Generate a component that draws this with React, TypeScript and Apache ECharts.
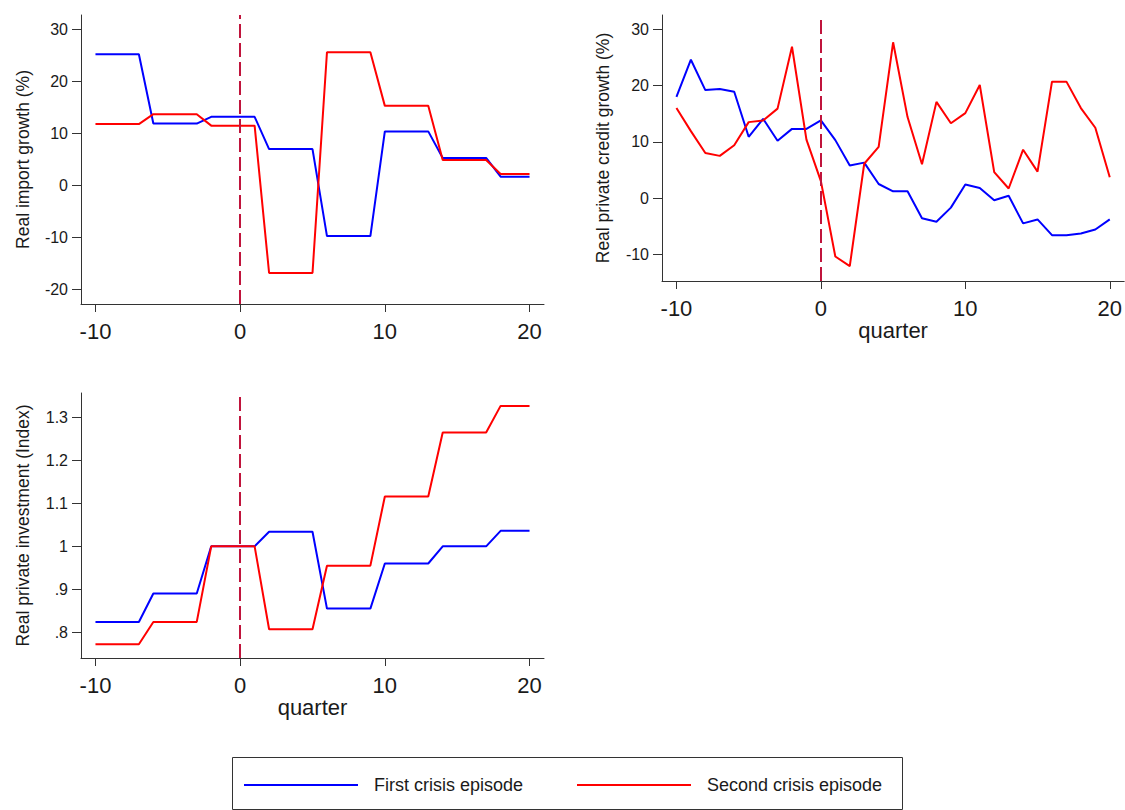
import React, { useEffect, useRef } from "react";
import * as echarts from "echarts";

// ---------- data ----------
const quarters = [-10, -9, -8, -7, -6, -5, -4, -3, -2, -1, 0, 1, 2, 3, 4, 5, 6, 7, 8, 9, 10, 11, 12, 13, 14, 15, 16, 17, 18, 19, 20];

const importFirst = [25.2, 25.2, 25.2, 25.2, 11.9, 11.9, 11.9, 11.9, 13.2, 13.2, 13.2, 13.2, 7.0, 7.0, 7.0, 7.0, -9.7, -9.7, -9.7, -9.7, 10.4, 10.4, 10.4, 10.4, 5.3, 5.3, 5.3, 5.3, 1.7, 1.7, 1.7];
const importSecond = [11.8, 11.8, 11.8, 11.8, 13.7, 13.7, 13.7, 13.7, 11.5, 11.5, 11.5, 11.5, -16.8, -16.8, -16.8, -16.8, 25.6, 25.6, 25.6, 25.6, 15.3, 15.3, 15.3, 15.3, 4.9, 4.9, 4.9, 4.9, 2.2, 2.2, 2.2];

const creditFirst = [18.0, 24.6, 19.2, 19.4, 18.9, 10.9, 14.1, 10.2, 12.3, 12.3, 13.8, 10.3, 5.8, 6.3, 2.5, 1.2, 1.2, -3.6, -4.2, -1.7, 2.4, 1.8, -0.4, 0.4, -4.5, -3.8, -6.6, -6.6, -6.3, -5.6, -3.8];
const creditSecond = [16.0, 11.9, 8.0, 7.5, 9.4, 13.5, 13.8, 15.9, 26.9, 10.4, 3.0, -10.4, -12.1, 6.1, 9.1, 27.7, 14.4, 6.0, 17.1, 13.3, 15.1, 20.1, 4.6, 1.7, 8.6, 4.7, 20.7, 20.7, 16.0, 12.5, 3.7];

const investFirst = [0.824, 0.824, 0.824, 0.824, 0.89, 0.89, 0.89, 0.89, 1.0, 1.0, 1.0, 1.0, 1.034, 1.034, 1.034, 1.034, 0.855, 0.855, 0.855, 0.855, 0.96, 0.96, 0.96, 0.96, 1.0, 1.0, 1.0, 1.0, 1.036, 1.036, 1.036];
const investSecond = [0.772, 0.772, 0.772, 0.772, 0.824, 0.824, 0.824, 0.824, 1.0, 1.0, 1.0, 1.0, 0.807, 0.807, 0.807, 0.807, 0.955, 0.955, 0.955, 0.955, 1.116, 1.116, 1.116, 1.116, 1.265, 1.265, 1.265, 1.265, 1.327, 1.327, 1.327];

const xTicks = [-10, 0, 10, 20];
const importTicks = [-20, -10, 0, 10, 20, 30];
const creditTicks = [-10, 0, 10, 20, 30];
const investTicks = [0.8, 0.9, 1.0, 1.1, 1.2, 1.3];

const seriesNames = ["First crisis episode", "Second crisis episode"];
const crisisQuarter = 0;

// ---------- styling ----------
const FONT = "'Liberation Sans', Arial, Helvetica, sans-serif";
const AXIS_COLOR = "#333333";
const TEXT_COLOR = "#1a1a1a";
const BLUE = "#0000ff";
const RED = "#ff0000";

const pairs = (ys: number[]) => quarters.map((q, i) => [q, ys[i]]);

const xAxisCfg = (gridIndex: number, showName: boolean) => ({
  type: "value",
  gridIndex,
  min: -11,
  max: 21,
  axisLine: { show: true, onZero: false, lineStyle: { color: AXIS_COLOR, width: 1 } },
  axisTick: { show: true, length: 8, customValues: xTicks, lineStyle: { color: AXIS_COLOR } },
  axisLabel: { customValues: xTicks, fontSize: 22, color: TEXT_COLOR, margin: 16, fontFamily: FONT },
  splitLine: { show: false },
  name: showName ? "quarter" : "",
  nameLocation: "middle",
  nameGap: 37,
  nameTextStyle: { fontSize: 22, color: TEXT_COLOR, fontFamily: FONT },
});

const yAxisCfg = (gridIndex: number, min: number, max: number, ticks: number[], name: string, gap: number, fmt?: (v: number) => string) => ({
  type: "value",
  gridIndex,
  min,
  max,
  axisLine: { show: true, onZero: false, lineStyle: { color: AXIS_COLOR, width: 1 } },
  axisTick: { show: true, length: 9, customValues: ticks, lineStyle: { color: AXIS_COLOR } },
  axisLabel: { customValues: ticks, fontSize: 16, color: TEXT_COLOR, margin: 13, fontFamily: FONT, formatter: fmt },
  splitLine: { show: false },
  name,
  nameLocation: "middle",
  nameGap: gap,
  nameTextStyle: { fontSize: 17.5, color: TEXT_COLOR, fontFamily: FONT },
});

const investFmt = (v: number) => {
  const s = v.toFixed(1);
  if (s === "1.0") return "1";
  return s.startsWith("0") ? s.slice(1) : s;
};

const markZero = {
  silent: true,
  symbol: ["none", "none"],
  label: { show: false },
  lineStyle: { color: "#c0143c", width: 2, type: [14, 5] },
  data: [{ xAxis: crisisQuarter }],
};

const lineSeries = (name: string, color: string, idx: number, ys: number[], withMark: boolean) => ({
  type: "line",
  name,
  xAxisIndex: idx,
  yAxisIndex: idx,
  data: pairs(ys),
  symbol: "none",
  lineStyle: { color, width: 2 },
  itemStyle: { color },
  z: color === RED ? 3 : 2,
  markLine: withMark ? markZero : undefined,
});

const legendCfg = (name: string, left: number) => ({
  data: [name],
  left,
  top: 775,
  padding: 0,
  icon: "rect",
  itemWidth: 114,
  itemHeight: 2,
  selectedMode: false,
  textStyle: { fontSize: 18, color: TEXT_COLOR, fontFamily: FONT, padding: [0, 0, 0, 11], lineHeight: 20 },
});

const option = {
  animation: false,
  backgroundColor: "#ffffff",
  grid: [
    { left: 81, top: 15, width: 463, height: 289 },
    { left: 662, top: 15, width: 463, height: 266 },
    { left: 81, top: 393, width: 463, height: 265 },
  ],
  xAxis: [xAxisCfg(0, false), xAxisCfg(1, true), xAxisCfg(2, true)],
  yAxis: [
    yAxisCfg(0, -22.75, 32.75, importTicks, "Real import growth (%)", 49),
    yAxisCfg(1, -14.75, 32.55, creditTicks, "Real private credit growth (%)", 50),
    yAxisCfg(2, 0.74, 1.357, investTicks, "Real private investment (Index)", 49, investFmt),
  ],
  legend: [legendCfg(seriesNames[0], 244), legendCfg(seriesNames[1], 577)],
  graphic: [
    {
      type: "rect",
      silent: true,
      shape: { x: 232.5, y: 757.5, width: 670, height: 52 },
      style: { fill: "none", stroke: AXIS_COLOR, lineWidth: 1 },
    },
  ],
  series: [
    lineSeries(seriesNames[0], BLUE, 0, importFirst, true),
    lineSeries(seriesNames[1], RED, 0, importSecond, false),
    lineSeries(seriesNames[0], BLUE, 1, creditFirst, true),
    lineSeries(seriesNames[1], RED, 1, creditSecond, false),
    lineSeries(seriesNames[0], BLUE, 2, investFirst, true),
    lineSeries(seriesNames[1], RED, 2, investSecond, false),
  ],
};

export default function App() {
  const ref = useRef<HTMLDivElement>(null);
  useEffect(() => {
    if (!ref.current) return;
    const chart = echarts.init(ref.current, null, { renderer: "svg" });
    chart.setOption(option as any);
    return () => chart.dispose();
  }, []);
  return (
    <div
      ref={ref}
      style={{ position: "absolute", left: 0, top: 0, width: 1125, height: 810, background: "#fff" }}
    />
  );
}
